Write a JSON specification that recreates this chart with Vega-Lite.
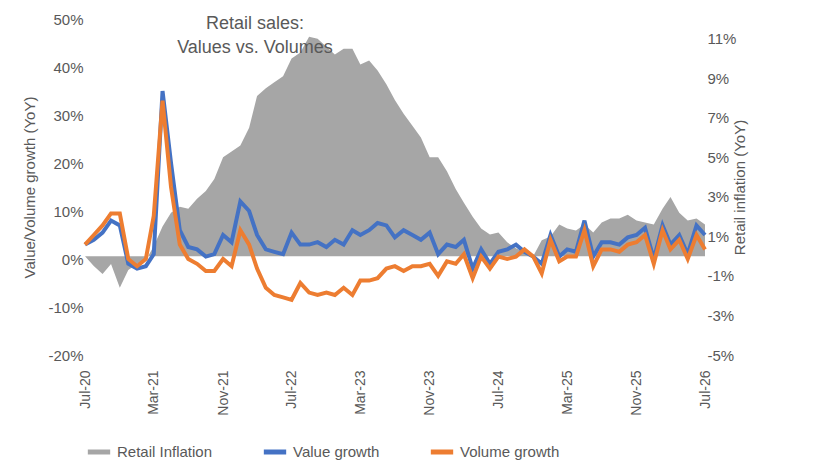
{"$schema":"https://vega.github.io/schema/vega-lite/v6.json","width":620,"height":336,"padding":{"left":22,"top":12,"right":8,"bottom":5},
"config":{"font":"Liberation Sans","view":{"stroke":null},"axis":{"grid":false,"labelFontSize":15,"titleFontSize":15,"labelColor":"#595959","titleColor":"#595959","titleFontWeight":"normal","domain":false,"ticks":false}},
"title":{"text":["Retail sales:","Values vs. Volumes"],"fontSize":18,"fontWeight":"normal","color":"#595959","offset":-45,"dx":-140,"lineHeight":24},
"data":{"values":[]},
"layer":[
{"data":{"values":[
{"d":"2020-07-01","v":0},{"d":"2020-08-01","v":-0.5},{"d":"2020-09-01","v":-0.9},{"d":"2020-10-01","v":-0.4},{"d":"2020-11-01","v":-1.6},{"d":"2020-12-01","v":-0.7},
{"d":"2021-01-01","v":-0.4},{"d":"2021-02-01","v":-0.2},{"d":"2021-03-01","v":0.5},{"d":"2021-04-01","v":1.5},{"d":"2021-05-01","v":2.2},{"d":"2021-06-01","v":2.5},{"d":"2021-07-01","v":2.4},{"d":"2021-08-01","v":2.9},{"d":"2021-09-01","v":3.3},{"d":"2021-10-01","v":3.9},{"d":"2021-11-01","v":5.0},{"d":"2021-12-01","v":5.3},
{"d":"2022-01-01","v":5.6},{"d":"2022-02-01","v":6.5},{"d":"2022-03-01","v":8.1},{"d":"2022-04-01","v":8.5},{"d":"2022-05-01","v":8.8},{"d":"2022-06-01","v":9.1},{"d":"2022-07-01","v":10.0},{"d":"2022-08-01","v":10.3},{"d":"2022-09-01","v":11.1},{"d":"2022-10-01","v":11.0},{"d":"2022-11-01","v":10.6},{"d":"2022-12-01","v":10.2},
{"d":"2023-01-01","v":10.5},{"d":"2023-02-01","v":10.5},{"d":"2023-03-01","v":9.7},{"d":"2023-04-01","v":9.9},{"d":"2023-05-01","v":9.4},{"d":"2023-06-01","v":8.7},{"d":"2023-07-01","v":7.9},{"d":"2023-08-01","v":7.2},{"d":"2023-09-01","v":6.6},{"d":"2023-10-01","v":6.0},{"d":"2023-11-01","v":5.0},{"d":"2023-12-01","v":5.0},
{"d":"2024-01-01","v":4.3},{"d":"2024-02-01","v":3.4},{"d":"2024-03-01","v":2.7},{"d":"2024-04-01","v":2.0},{"d":"2024-05-01","v":1.4},{"d":"2024-06-01","v":1.1},{"d":"2024-07-01","v":1.2},{"d":"2024-08-01","v":0.7},{"d":"2024-09-01","v":0.4},{"d":"2024-10-01","v":0.2},{"d":"2024-11-01","v":0.0},{"d":"2024-12-01","v":0.8},
{"d":"2025-01-01","v":1.0},{"d":"2025-02-01","v":1.6},{"d":"2025-03-01","v":1.4},{"d":"2025-04-01","v":1.3},{"d":"2025-05-01","v":1.6},{"d":"2025-06-01","v":1.2},{"d":"2025-07-01","v":1.7},{"d":"2025-08-01","v":1.9},{"d":"2025-09-01","v":1.9},{"d":"2025-10-01","v":2.1},{"d":"2025-11-01","v":1.8},{"d":"2025-12-01","v":1.7},
{"d":"2026-01-01","v":1.6},{"d":"2026-02-01","v":2.4},{"d":"2026-03-01","v":3.0},{"d":"2026-04-01","v":2.2},{"d":"2026-05-01","v":1.8},{"d":"2026-06-01","v":1.9},{"d":"2026-07-01","v":1.6}]},
"transform":[{"calculate":"'Retail Inflation'","as":"s"}],
"mark":{"type":"area","color":"#a6a6a6"},
"encoding":{"x":{"field":"d","type":"temporal","title":null,"axis":{"values":["2020-07-01","2020-11-01","2021-03-01","2021-07-01","2021-11-01","2022-03-01","2022-07-01","2022-11-01","2023-03-01","2023-07-01","2023-11-01","2024-03-01","2024-07-01","2024-11-01","2025-03-01","2025-07-01","2025-11-01","2026-03-01","2026-07-01"],"format":"%b-%y","labelAngle":-90,"labelAlign":"right","labelBaseline":"middle","labelOverlap":false,"labelFontSize":14,"offset":10,"labelPadding":5}},
"y":{"field":"v","type":"quantitative","scale":{"domain":[-5,12]},"axis":{"orient":"right","values":[-5,-3,-1,1,3,5,7,9,11],"labelExpr":"datum.value+'%'","title":"Retail inflation (YoY)","titleAngle":270,"titlePadding":12}},
"color":{"field":"s","type":"nominal","scale":{"domain":["Retail Inflation","Value growth","Volume growth"],"range":["#a6a6a6","#4472c4","#ed7d31"]},"legend":{"orient":"bottom","title":null,"labelFontSize":15,"labelColor":"#595959","symbolType":"stroke","symbolStrokeWidth":5,"symbolSize":500,"columnPadding":40,"offset":22}}}},
{"data":{"values":[
{"d":"2020-07-01","a":3,"b":3},{"d":"2020-08-01","a":4,"b":5},{"d":"2020-09-01","a":5.5,"b":7},{"d":"2020-10-01","a":8,"b":9.5},{"d":"2020-11-01","a":7,"b":9.5},{"d":"2020-12-01","a":-1,"b":0},
{"d":"2021-01-01","a":-2,"b":-1.5},{"d":"2021-02-01","a":-1.5,"b":0},{"d":"2021-03-01","a":1,"b":9},{"d":"2021-04-01","a":35,"b":33},{"d":"2021-05-01","a":20,"b":15},{"d":"2021-06-01","a":6,"b":3},{"d":"2021-07-01","a":2.5,"b":0},{"d":"2021-08-01","a":2,"b":-1},{"d":"2021-09-01","a":0.5,"b":-2.5},{"d":"2021-10-01","a":1,"b":-2.5},{"d":"2021-11-01","a":5,"b":0},{"d":"2021-12-01","a":3.5,"b":-1.5},
{"d":"2022-01-01","a":12,"b":6},{"d":"2022-02-01","a":10,"b":3},{"d":"2022-03-01","a":5,"b":-2},{"d":"2022-04-01","a":2,"b":-6},{"d":"2022-05-01","a":1.5,"b":-7.5},{"d":"2022-06-01","a":1,"b":-8},{"d":"2022-07-01","a":5.5,"b":-8.5},{"d":"2022-08-01","a":3,"b":-5},{"d":"2022-09-01","a":3,"b":-7},{"d":"2022-10-01","a":3.5,"b":-7.5},{"d":"2022-11-01","a":2.5,"b":-7},{"d":"2022-12-01","a":4,"b":-7.5},
{"d":"2023-01-01","a":3,"b":-6},{"d":"2023-02-01","a":6,"b":-7.5},{"d":"2023-03-01","a":5,"b":-4.5},{"d":"2023-04-01","a":6,"b":-4.5},{"d":"2023-05-01","a":7.5,"b":-4},{"d":"2023-06-01","a":7,"b":-2},{"d":"2023-07-01","a":4.5,"b":-1.5},{"d":"2023-08-01","a":6,"b":-2.5},{"d":"2023-09-01","a":5,"b":-1.5},{"d":"2023-10-01","a":4,"b":-1.5},{"d":"2023-11-01","a":5.5,"b":-1},{"d":"2023-12-01","a":1,"b":-3.5},
{"d":"2024-01-01","a":3,"b":-0.5},{"d":"2024-02-01","a":2.5,"b":-1},{"d":"2024-03-01","a":4,"b":1},{"d":"2024-04-01","a":-2,"b":-4},{"d":"2024-05-01","a":2,"b":0.5},{"d":"2024-06-01","a":-1,"b":-2},{"d":"2024-07-01","a":1.5,"b":0.5},{"d":"2024-08-01","a":2,"b":0},{"d":"2024-09-01","a":3,"b":0.5},{"d":"2024-10-01","a":1.5,"b":2},{"d":"2024-11-01","a":0.5,"b":0.5},{"d":"2024-12-01","a":-1,"b":-3},
{"d":"2025-01-01","a":5,"b":4},{"d":"2025-02-01","a":0.5,"b":-0.5},{"d":"2025-03-01","a":2,"b":0.5},{"d":"2025-04-01","a":1.5,"b":0.5},{"d":"2025-05-01","a":8,"b":6},{"d":"2025-06-01","a":0.5,"b":-1.5},{"d":"2025-07-01","a":3.5,"b":2},{"d":"2025-08-01","a":3.5,"b":2},{"d":"2025-09-01","a":3,"b":1.5},{"d":"2025-10-01","a":4.5,"b":3},{"d":"2025-11-01","a":5,"b":3.5},{"d":"2025-12-01","a":6.5,"b":5},
{"d":"2026-01-01","a":0,"b":-1},{"d":"2026-02-01","a":7,"b":6},{"d":"2026-03-01","a":3,"b":2},{"d":"2026-04-01","a":5,"b":4},{"d":"2026-05-01","a":1,"b":0},{"d":"2026-06-01","a":7,"b":5},{"d":"2026-07-01","a":5,"b":2}]},
"transform":[{"fold":["a","b"],"as":["k","v"]},{"calculate":"datum.k=='a'?'Value growth':'Volume growth'","as":"s"}],
"mark":{"type":"line","strokeWidth":4},
"encoding":{"x":{"field":"d","type":"temporal"},
"y":{"field":"v","type":"quantitative","scale":{"domain":[-20,50]},"axis":{"orient":"left","values":[-20,-10,0,10,20,30,40,50],"labelExpr":"datum.value+'%'","title":"Value/Volume  growth (YoY)","titlePadding":10}},
"color":{"field":"s","type":"nominal"},"detail":{"field":"s"}}}
],
"resolve":{"scale":{"y":"independent"}}}
